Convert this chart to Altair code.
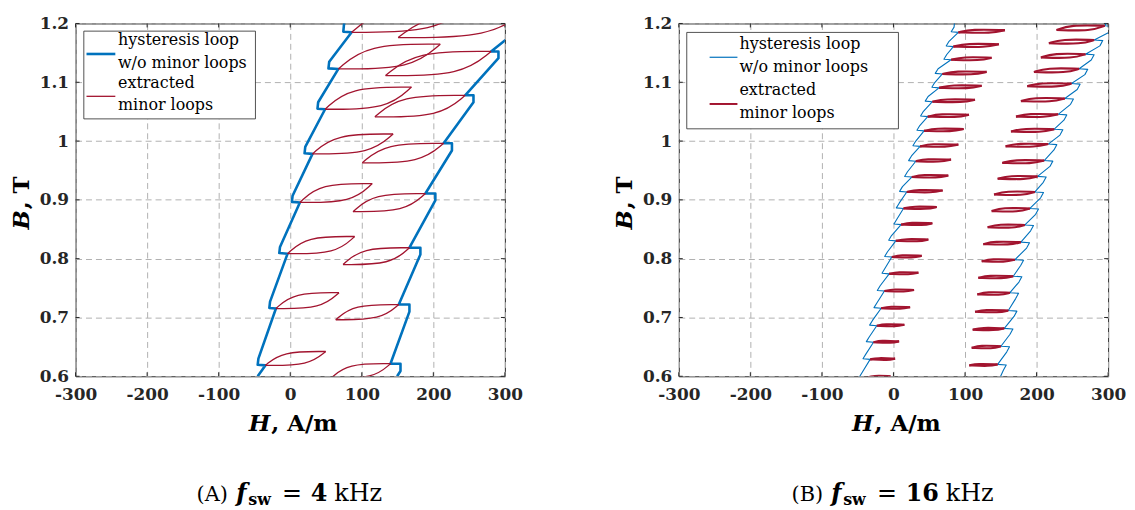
import altair as alt
import pandas as pd

# ---------------- axis ticks ----------------
XTICKS = [-300, -200, -100, 0, 100, 200, 300]
YTICKS = [0.6, 0.7, 0.8, 0.9, 1.0, 1.1, 1.2]

# ---------------- panel A : f_sw = 4 kHz ----------------
# hysteresis loop without minor loops: left (descending) branch vertices
A_left_H = [-45.5, -34.8, -45.5, -44.5, -20.0, -29.2, -28.2, -3.7, -15.3, -14.3,
            13.5, 2.3, 3.3, 31.1, 20.0, 21.0, 48.7, 38.1, 39.0, 67.3, 53.4, 54.5,
            85.8, 74.2, 75.0, 77.0]
A_left_B = [0.600, 0.6185, 0.6195, 0.630, 0.7152, 0.7162, 0.727, 0.8085, 0.8095, 0.820,
            0.8956, 0.8966, 0.907, 0.9782, 0.9792, 0.990, 1.0541, 1.0551, 1.066, 1.1227,
            1.1237, 1.135, 1.1850, 1.186, 1.197, 1.21]
# right (ascending) branch vertices
A_right_H = [149.4, 154.1, 154.1, 140.1, 166.6, 166.6, 151.7, 181.9, 181.9, 166.6,
             202.8, 202.8, 188.9, 226.0, 226.0, 214.4, 256.1, 256.1, 244.5, 291.0,
             291.0, 280.7, 310.0]
A_right_B = [0.600, 0.609, 0.6214, 0.6214, 0.710, 0.7220, 0.7220, 0.807, 0.8186, 0.8186,
             0.899, 0.9108, 0.9108, 0.984, 0.9962, 0.9962, 1.066, 1.0778, 1.0778, 1.141,
             1.1524, 1.1524, 1.181]
# extracted minor loops: left tip (H, B) and right tip (H, B)
A_loop_LH = [-34.8, -20.0, -3.7, 13.5, 31.1, 48.7, 67.3, 85.8,
             56.6, 63.6, 73.8, 87.7, 100.7, 118.3, 133.2, 150.8]
A_loop_LB = [0.6185, 0.7152, 0.8085, 0.8956, 0.9782, 1.0541, 1.1227, 1.1850,
             0.5964, 0.6961, 0.7900, 0.8799, 0.9630, 1.0412, 1.1114, 1.1760]
A_loop_RH = [49.6, 68.2, 90.0, 114.6, 143.8, 169.4, 209.7, 250.0,
             140.1, 151.7, 166.6, 188.9, 214.4, 244.5, 280.7, 330.0]
A_loop_RB = [0.6421, 0.7422, 0.8377, 0.9277, 1.0120, 1.0918, 1.1648, 1.2320,
             0.6214, 0.7220, 0.8186, 0.9108, 0.9962, 1.0778, 1.1524, 1.2220]

# ---------------- panel B : f_sw = 16 kHz ----------------
# minor loops attached to the left branch (top -> bottom)
B_lb_LH = [90.7, 83.7, 80.5, 68.4, 63.7, 54.4, 47.9, 42.8, 37.2, 31.2, 25.6, 18.6,
           14.0, 10.7, 3.3, -2.3, -6.0, -12.6, -17.2, -23.3, -27.9, -32.6, -38.0]
B_lb_LB = [1.1848, 1.1607, 1.1382, 1.1141, 1.0905, 1.0669, 1.0416, 1.0174, 0.9910,
           0.9657, 0.9388, 0.9135, 0.8854, 0.8579, 0.8303, 0.8028, 0.7742, 0.7449,
           0.7157, 0.6860, 0.6579, 0.6287, 0.5970]
B_lb_RH = [155.8, 147.4, 137.2, 130.2, 123.3, 114.0, 105.6, 98.1, 90.7, 80.5, 76.7,
           68.8, 60.5, 54.4, 48.8, 39.5, 34.9, 28.8, 23.3, 15.3, 7.9, 2.3, -4.0]
B_lb_RB = [1.1887, 1.1646, 1.1418, 1.1177, 1.0940, 1.0703, 1.0449, 1.0205, 0.9940,
           0.9685, 0.9415, 0.9160, 0.8878, 0.8602, 0.8325, 0.8049, 0.7762, 0.7468,
           0.7175, 0.6876, 0.6594, 0.6300, 0.6000]
# minor loops attached to the right branch (top -> bottom)
B_rb_LH = [227.9, 217.2, 206.0, 196.3, 187.0, 178.1, 171.2, 164.2, 156.7, 152.1, 145.6,
           140.5, 137.2, 131.6, 125.6, 123.3, 118.6, 117.2, 114.0, 110.7, 109.3, 106.0]
B_rb_LB = [1.1888, 1.1663, 1.1421, 1.1174, 1.0933, 1.0680, 1.0416, 1.0163, 0.9910,
           0.9629, 0.9360, 0.9090, 0.8809, 0.8534, 0.8247, 0.7955, 0.7674, 0.7393,
           0.7096, 0.6792, 0.6483, 0.6185]
B_rb_RH = [295.3, 280.5, 268.4, 259.5, 248.8, 239.5, 230.2, 224.7, 216.3, 210.7, 201.4,
           197.7, 190.7, 183.7, 178.1, 169.8, 167.4, 162.8, 160.5, 154.9, 150.2, 145.6]
B_rb_RB = [1.1961, 1.1719, 1.1478, 1.1230, 1.0978, 1.0725, 1.0455, 1.0202, 0.9949,
           0.9669, 0.9399, 0.9135, 0.8854, 0.8573, 0.8281, 0.7983, 0.7702, 0.7421,
           0.7118, 0.6815, 0.6511, 0.6202]
# branch end points (bottom entry, top exit)
B_left_ends = [(-42.0, 0.590), (86.0, 1.210)]
B_right_ends = [(146.0, 0.590), (304.0, 1.215)]

# ---------------- style ----------------
W, HGT = 432, 355
BLUE, RED = "#0072BD", "#A2142F"
FONT = "DejaVu Serif"
INK = "#262626"
ONE = pd.DataFrame({"k": [0]})

xscale = alt.Scale(domain=[-300, 300], nice=False, zero=False)
yscale = alt.Scale(domain=[0.6, 1.2], nice=False, zero=False)
common_axis = dict(title=None, grid=True, gridDash=[6, 4], gridColor="#b0b0b0",
                   gridWidth=1, domain=False, ticks=False, labelFont=FONT,
                   labelFontWeight="bold", labelFontSize=17, labelColor=INK,
                   labelOverlap=False)
xaxis = alt.Axis(values=XTICKS, labelExpr="'' + datum.value", labelFlush=False,
                 labelPadding=10, **common_axis)
yaxis = alt.Axis(values=YTICKS,
                 labelExpr="datum.value == 1 ? '1' : format(datum.value, '.1f')",
                 labelPadding=7, **common_axis)


def X():
    return alt.X("H:Q", scale=xscale, axis=xaxis)


def Y():
    return alt.Y("B:Q", scale=yscale, axis=yaxis)


def path_df(hs, bs, gid):
    return pd.DataFrame({"H": hs, "B": bs, "g": gid, "o": list(range(len(hs)))})


def loops_df(LH, LB, RH, RB, t):
    rows = []
    for i, (lh, lb, rh, rb) in enumerate(zip(LH, LB, RH, RB)):
        w = rh - lh
        up = [(lh, lb), (lh + 0.28 * w, rb + t), (rh, rb)]
        lo = [(lh, lb), (lh + 0.72 * w, lb - t), (rh, rb)]
        for k, (h, b) in enumerate(up):
            rows.append({"H": h, "B": b, "g": f"u{i}", "o": k})
        for k, (h, b) in enumerate(lo):
            rows.append({"H": h, "B": b, "g": f"l{i}", "o": k})
    return pd.DataFrame(rows)


def lines(df, color, sw, interp="linear"):
    return alt.Chart(df).mark_line(color=color, strokeWidth=sw, clip=True,
                                   interpolate=interp, strokeJoin="round").encode(
        x=X(), y=Y(), detail="g:N", order="o:Q")


def frame_ticks():
    xt = pd.DataFrame({"H": XTICKS})
    yt = pd.DataFrame({"B": YTICKS})
    r = dict(color=INK, strokeWidth=1)
    return [
        alt.Chart(xt).mark_rule(**r).encode(x=X(), y=alt.value(HGT - 4), y2=alt.value(HGT)),
        alt.Chart(xt).mark_rule(**r).encode(x=X(), y=alt.value(0), y2=alt.value(4)),
        alt.Chart(yt).mark_rule(**r).encode(y=Y(), x=alt.value(0), x2=alt.value(4)),
        alt.Chart(yt).mark_rule(**r).encode(y=Y(), x=alt.value(W - 4), x2=alt.value(W)),
    ]


def txt(s, x, y, size=16, weight="normal", style="normal", align="left",
        baseline="middle", angle=None):
    kw = dict(text=s, align=align, baseline=baseline, font=FONT, fontSize=size,
              fontWeight=weight, fontStyle=style, color="#000")
    if angle is not None:
        kw["angle"] = angle
    return alt.Chart(ONE).mark_text(**kw).encode(x=alt.value(x), y=alt.value(y))


def legend(box, sx, blue_y, red_y, bsw, rsw, tx, ty):
    out = [alt.Chart(ONE).mark_rect(fill="white", stroke=INK, strokeWidth=0.8).encode(
        x=alt.value(box[0]), x2=alt.value(box[1]), y=alt.value(box[2]), y2=alt.value(box[3]))]
    out.append(alt.Chart(ONE).mark_rule(color=BLUE, strokeWidth=bsw).encode(
        x=alt.value(sx[0]), x2=alt.value(sx[1]), y=alt.value(blue_y)))
    out.append(alt.Chart(ONE).mark_rule(color=RED, strokeWidth=rsw).encode(
        x=alt.value(sx[0]), x2=alt.value(sx[1]), y=alt.value(red_y)))
    labels = ["hysteresis loop", "w/o minor loops", "extracted", "minor loops"]
    for s, y in zip(labels, ty):
        out.append(txt(s, tx, y, size=16))
    return out


def axis_titles():
    out = []
    # x title:  H, A/m   (italic H)
    out.append(txt("H", 196, 410, 23, "bold", "italic", align="right", baseline="alphabetic"))
    out.append(txt(", A/m", 197, 410, 23, "bold", "normal", align="left", baseline="alphabetic"))
    # y title:  B, T   (rotated)
    out.append(txt("B", -47, 188, 23, "bold", "italic", align="right",
                   baseline="alphabetic", angle=270))
    out.append(txt(", T", -47, 187, 23, "bold", "normal", align="left",
                   baseline="alphabetic", angle=270))
    return out


def caption(letter, value, value_w):
    pieces = [
        (letter, 21, "normal", "normal", 0, 31, 9),
        ("f", 24, "bold", "italic", 0, 11, 1),
        ("sw", 16, "bold", "normal", 4, 25, 9),
        ("=", 24, "normal", "normal", 0, 20, 9),
        (value, 24, "bold", "normal", 0, value_w, 7),
        ("kHz", 24, "normal", "normal", 0, 50, 0),
    ]
    total = sum(p[5] + p[6] for p in pieces)
    x = W / 2 - total / 2
    out = []
    for s, size, weight, style, dy, w, gap in pieces:
        out.append(txt(s, x, 481 + dy, size, weight, style, align="left", baseline="alphabetic"))
        x += w + gap
    return out


# ---------------- panel A ----------------
A_blue = pd.concat([path_df(A_left_H, A_left_B, "L"), path_df(A_right_H, A_right_B, "R")])
A_red = loops_df(A_loop_LH, A_loop_LB, A_loop_RH, A_loop_RB, 0.0)

panelA = alt.layer(
    *frame_ticks(),
    lines(A_blue, BLUE, 2.6),
    lines(A_red, RED, 1.3, "basis"),
    *legend((8.3, 181, 7.7, 96), (11, 40), 30.7, 73.3, 2.6, 1.3, 42.7, [17, 40, 60, 82]),
    *axis_titles(),
    *caption("(A)", "4", 16.6),
).properties(width=W, height=HGT)

# ---------------- panel B ----------------
lb_tips = list(zip(B_lb_LH, B_lb_LB))[::-1]
rb_tips = list(zip(B_rb_RH, B_rb_RB))[::-1]
bl_H, bl_B = [B_left_ends[0][0]], [B_left_ends[0][1]]
for h, b in lb_tips:
    for ph, pb in [(h, b), (h - 10, b + 0.001), (h - 6, b + 0.009)]:
        bl_H.append(ph)
        bl_B.append(pb)
bl_H.append(B_left_ends[1][0])
bl_B.append(B_left_ends[1][1])
br_H, br_B = [B_right_ends[0][0]], [B_right_ends[0][1]]
for h, b in rb_tips:
    for ph, pb in [(h + 8, b - 0.010), (h + 12, b - 0.001), (h, b)]:
        br_H.append(ph)
        br_B.append(pb)
br_H.append(B_right_ends[1][0])
br_B.append(B_right_ends[1][1])

B_blue = pd.concat([path_df(bl_H, bl_B, "L"), path_df(br_H, br_B, "R")])
B_red = pd.concat([
    loops_df(B_lb_LH, B_lb_LB, B_lb_RH, B_lb_RB, 0.0015),
    loops_df(B_rb_LH, B_rb_LB, B_rb_RH, B_rb_RB, 0.0015).assign(g=lambda d: "r" + d["g"]),
])

panelB = alt.layer(
    *frame_ticks(),
    lines(B_blue, BLUE, 1.1),
    lines(B_red, RED, 2.1, "basis"),
    *legend((8, 221, 9, 106), (31, 59), 34, 81, 1.2, 2.0, 61, [21, 44, 67, 90]),
    *axis_titles(),
    *caption("(B)", "16", 33.2),
).properties(width=W, height=HGT)

chart = alt.hconcat(panelA, panelB, spacing=175, bounds="flush").properties(
    padding={"left": 2, "top": 4, "right": 0, "bottom": 0}
).configure_view(stroke=INK, strokeWidth=1)

chart.save("out.html", embed_options={"renderer": "svg", "actions": False})
